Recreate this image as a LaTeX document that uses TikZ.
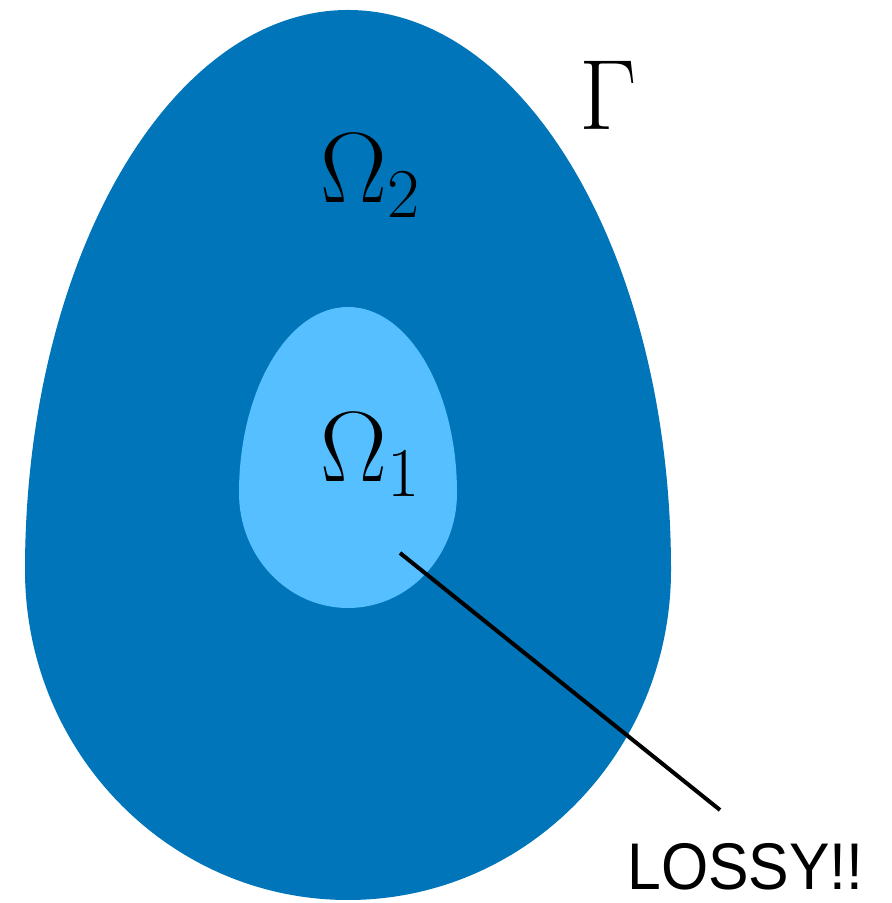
\RequirePackage{fix-cm}
\documentclass[tikz,border=0pt]{standalone}
\usepackage{fontspec}
\newfontfamily\lossyfont{Liberation Sans}
\usetikzlibrary{positioning}
\definecolor{outerblue}{RGB}{0,117,185}
\definecolor{innerblue}{RGB}{86,191,255}

\begin{document}
\begin{tikzpicture}[
  x=0.5pt, y=0.5pt,
  lbl/.style={font=\fontsize{50}{50}\selectfont, inner sep=0pt, anchor=base west},
  note/.style={font=\lossyfont\fontsize{33}{33}\selectfont, inner sep=0pt,
    anchor=base west, xscale=0.92, transform shape},
  ptr/.style={line width=2pt, black}]
\useasboundingbox (0,0) rectangle (891,903);
% outer region Omega_2
\fill[outerblue] (25,333)
  arc[start angle=180, end angle=0, x radius=323, y radius=560]
  arc[start angle=0, end angle=-180, x radius=323, y radius=330] -- cycle;
% inner region Omega_1
\fill[innerblue] (239,410)
  arc[start angle=180, end angle=0, x radius=109, y radius=186]
  arc[start angle=0, end angle=-180, x radius=109, y radius=115] -- cycle;
\node[lbl] (gamma) at (579,773) {$\Gamma$};
\node[lbl] (omtwo) at (320,700) {$\Omega_2$};
\node[lbl] (omone) at (320,421) {$\Omega_1$};
\node[note] (lossy) at (627,13) {LOSSY!!};
\coordinate (tip) at (400,350);
\coordinate (foot) at (720,93);
\draw[ptr] (tip) -- (foot);
\end{tikzpicture}
\end{document}
